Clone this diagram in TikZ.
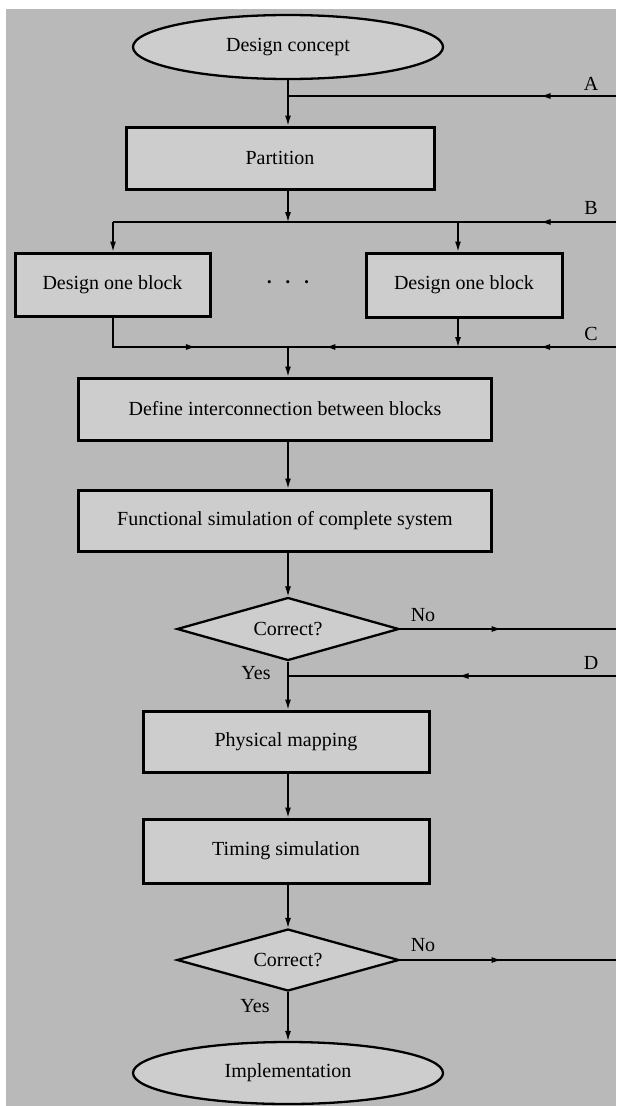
\documentclass[tikz,border=0pt]{standalone}
\usepackage{fontspec}
\setmainfont{Liberation Serif}
\usetikzlibrary{shapes.geometric,arrows.meta,decorations.markings}
\definecolor{bg}{HTML}{B9B9B9}
\definecolor{boxfill}{HTML}{CDCDCD}
\tikzset{
  every node/.style={font=\fontsize{20}{23}\selectfont},
  boxstyle/.style={draw=black, line width=3pt, fill=boxfill, rectangle, inner sep=0pt},
  ovalstyle/.style={draw=black, line width=2.3pt, fill=boxfill, ellipse, inner sep=0pt},
  decstyle/.style={draw=black, line width=2.3pt, fill=boxfill, diamond, inner sep=0pt, aspect=3.5},
  conn/.style={line width=1.2pt, -{Latex[length=10pt,width=6pt]}},
  plain/.style={line width=1.2pt},
  midarrow/.style={postaction={decorate}, decoration={markings, mark=at position #1 with {\arrow{Latex[length=10pt,width=6pt]}}}},
  lbl/.style={inner sep=0pt}
}
\begin{document}
\begin{tikzpicture}[x=1pt,y=-1pt]
\useasboundingbox (0,0) rectangle (616,1106);
\fill[white] (0,0) rectangle (616,1106);
\fill[bg] (6,9) rectangle (616,1106);

% nodes
\node[ovalstyle, minimum width=310pt, minimum height=64pt] (concept) at (288,47) {Design concept};
\node[boxstyle, minimum width=308pt, minimum height=62pt] (part) at (280,158) {Partition};
\node[boxstyle, minimum width=195pt, minimum height=63pt] (blk1) at (112.5,284.5) {Design one block};
\node[boxstyle, minimum width=196pt, minimum height=64pt] (blk2) at (464,285) {Design one block};
\node[font=\fontsize{13}{14}\selectfont] (dots) at (288,284) {\textbullet\hspace{14pt}\textbullet\hspace{14pt}\textbullet};
\node[boxstyle, minimum width=413pt, minimum height=62pt] (define) at (285,409) {Define interconnection between blocks};
\node[boxstyle, minimum width=413pt, minimum height=61pt] (func) at (285,520.5) {Functional simulation of complete system};
\node[decstyle, minimum width=222pt, minimum height=63pt] (dec1) at (288,629) {Correct?};
\node[boxstyle, minimum width=286pt, minimum height=61pt] (phys) at (286,741.5) {Physical mapping};
\node[boxstyle, minimum width=286pt, minimum height=64pt] (timing) at (286,851) {Timing simulation};
\node[decstyle, minimum width=222pt, minimum height=62pt] (dec2) at (288,960) {Correct?};
\node[ovalstyle, minimum width=310pt, minimum height=62pt] (impl) at (288,1073) {Implementation};

% junction coordinates
\coordinate (jA) at (288,96);
\coordinate (eA) at (616,96);
\coordinate (jB) at (288,222);
\coordinate (bL) at (113,222);
\coordinate (bR) at (458,222);
\coordinate (eB) at (616,222);
\coordinate (jC) at (288,347);
\coordinate (cL) at (113,347);
\coordinate (cR) at (458,347);
\coordinate (eC) at (616,347);
\coordinate (eN1) at (616,629);
\coordinate (jD) at (288,676);
\coordinate (eD) at (616,676);
\coordinate (eN2) at (616,960);

% labels
\node[lbl] (lA) at (591,84) {A};
\node[lbl] (lB) at (591,208) {B};
\node[lbl] (lC) at (591,334) {C};
\node[lbl] (lD) at (591,663) {D};
\node[lbl] (no1) at (423,615) {No};
\node[lbl] (yes1) at (256,673) {Yes};
\node[lbl] (no2) at (423,945) {No};
\node[lbl] (yes2) at (255,1006) {Yes};

% connectors
\draw[conn] (concept.south) -- (jA |- part.north);
\draw[plain, midarrow=0.23] (eA) -- (jA);
\draw[conn] (jB |- part.south) -- (jB);
\draw[plain, midarrow=0.15] (eB) -- (bL);
\draw[conn] (bL) -- (bL |- blk1.north);
\draw[conn] (bR) -- (bR |- blk2.north);
\draw[plain, midarrow=0.48] (eC) -- (cR);
\draw[plain, midarrow=0.78] (cR) -- (jC);
\draw[plain, midarrow=0.55] (cL |- blk1.south) -- (cL) -- (jC);
\draw[conn] (cR |- blk2.south) -- (cR);
\draw[conn] (jC) -- (jC |- define.north);
\draw[conn] (jC |- define.south) -- (jC |- func.north);
\draw[conn] (jC |- func.south) -- (dec1.north);
\draw[plain, midarrow=0.47] (dec1.east) -- (eN1);
\draw[plain, midarrow=0.48] (eD) -- (jD);
\draw[conn] (dec1.south) -- (jD |- phys.north);
\draw[conn] (jD |- phys.south) -- (jD |- timing.north);
\draw[conn] (jD |- timing.south) -- (dec2.north);
\draw[plain, midarrow=0.47] (dec2.east) -- (eN2);
\draw[conn] (dec2.south) -- (impl.north);
\end{tikzpicture}
\end{document}
